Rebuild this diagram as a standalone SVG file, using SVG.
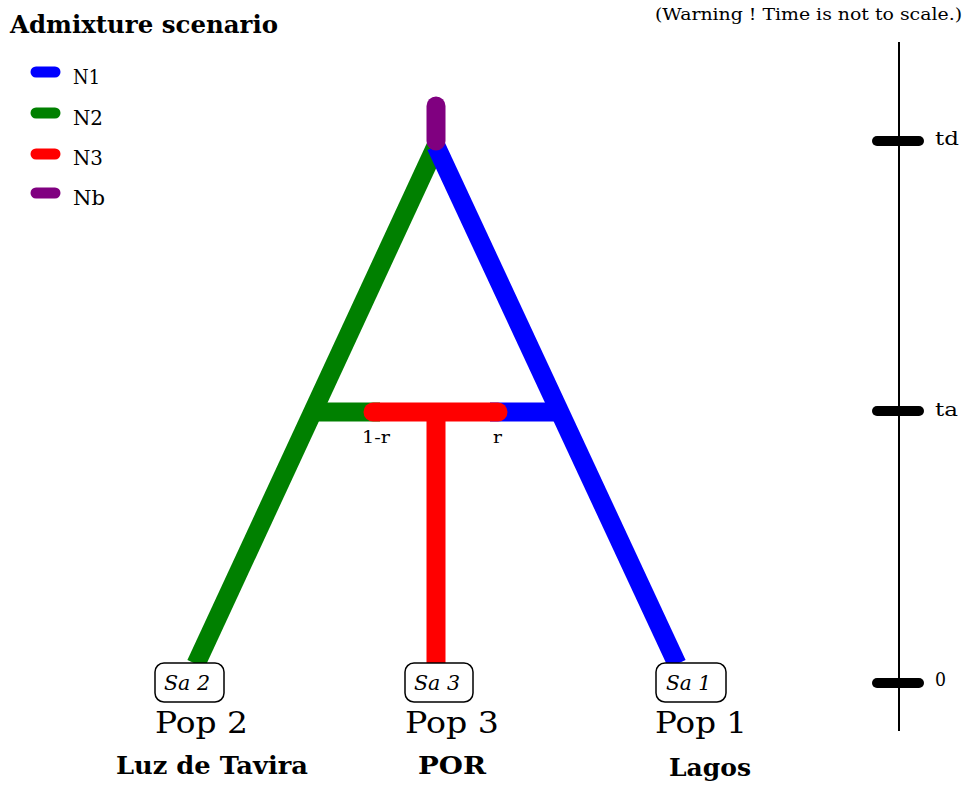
<svg xmlns="http://www.w3.org/2000/svg" width="965" height="787" viewBox="0 0 965 787">
<style>
text{font-family:"DejaVu Serif","Liberation Serif",serif;fill:#000}
.leg{stroke-width:11;stroke-linecap:round}
.br{fill:none;stroke-width:19}
.tick{stroke:#000;stroke-width:10;stroke-linecap:round}
.sbox{fill:#fff;stroke:#000;stroke-width:1.5}
.sa{font-style:italic;font-size:20px}
.pop{font-size:29px}
.nm{font-size:25px;font-weight:bold}
.lg{font-size:20px}
.tl{font-size:19px}
</style>
<rect width="965" height="787" fill="#fff"/>
<text x="10" y="33" font-size="25" font-weight="bold" textLength="268" lengthAdjust="spacingAndGlyphs">Admixture scenario</text>
<text x="655" y="20" font-size="16" textLength="307" lengthAdjust="spacingAndGlyphs">(Warning ! Time is not to scale.)</text>
<g id="legend">
<line class="leg" x1="36" y1="72" x2="55" y2="72" stroke="#0000ff"/>
<text class="lg" x="73" y="84" textLength="27" lengthAdjust="spacingAndGlyphs">N1</text>
<line class="leg" x1="36" y1="113" x2="55" y2="113" stroke="#008000"/>
<text class="lg" x="73" y="125" textLength="30" lengthAdjust="spacingAndGlyphs">N2</text>
<line class="leg" x1="36" y1="154" x2="55" y2="154" stroke="#ff0000"/>
<text class="lg" x="73" y="165" textLength="30" lengthAdjust="spacingAndGlyphs">N3</text>
<line class="leg" x1="36" y1="193" x2="55" y2="193" stroke="#800080"/>
<text class="lg" x="73" y="205" textLength="32" lengthAdjust="spacingAndGlyphs">Nb</text>
</g>
<g id="connectors">
<line class="br" x1="436" y1="146" x2="196" y2="664" stroke="#008000"/>
<line class="br" x1="436" y1="146" x2="677" y2="664" stroke="#0000ff"/>
<line x1="310" y1="412" x2="380" y2="412" stroke="#008000" stroke-width="19"/>
<line x1="490" y1="412" x2="558" y2="412" stroke="#0000ff" stroke-width="19"/>
<line x1="436" y1="412" x2="436" y2="664" stroke="#ff0000" stroke-width="19"/>
<line x1="373" y1="412" x2="498" y2="412" stroke="#ff0000" stroke-width="19" stroke-linecap="round"/>
<line x1="436" y1="106" x2="436" y2="141" stroke="#800080" stroke-width="19" stroke-linecap="round"/>
<text x="362" y="443" font-size="17" textLength="28" lengthAdjust="spacingAndGlyphs">1-r</text>
<text x="493" y="443" font-size="17" textLength="9" lengthAdjust="spacingAndGlyphs">r</text>
</g>
<g id="pop2">
<rect class="sbox" x="155" y="663" width="69" height="39" rx="9"/>
<text class="sa" x="164" y="690" textLength="46" lengthAdjust="spacingAndGlyphs">Sa 2</text>
<text class="pop" x="155" y="733" textLength="93" lengthAdjust="spacingAndGlyphs">Pop 2</text>
<text class="nm" x="116" y="774" textLength="192" lengthAdjust="spacingAndGlyphs">Luz de Tavira</text>
</g>
<g id="pop3">
<rect class="sbox" x="405" y="663" width="68" height="39" rx="9"/>
<text class="sa" x="414" y="690" textLength="46" lengthAdjust="spacingAndGlyphs">Sa 3</text>
<text class="pop" x="405" y="733" textLength="94" lengthAdjust="spacingAndGlyphs">Pop 3</text>
<text class="nm" x="418" y="774" textLength="68" lengthAdjust="spacingAndGlyphs">POR</text>
</g>
<g id="pop1">
<rect class="sbox" x="656" y="663" width="70" height="39" rx="9"/>
<text class="sa" x="666" y="690" textLength="45" lengthAdjust="spacingAndGlyphs">Sa 1</text>
<text class="pop" x="655" y="733" textLength="92" lengthAdjust="spacingAndGlyphs">Pop 1</text>
<text class="nm" x="669" y="776" textLength="82" lengthAdjust="spacingAndGlyphs">Lagos</text>
</g>
<g id="timeline">
<line x1="899" y1="42" x2="899" y2="731" stroke="#000" stroke-width="2"/>
<line class="tick" x1="877" y1="141" x2="919" y2="141"/>
<line class="tick" x1="877" y1="411" x2="919" y2="411"/>
<line class="tick" x1="877" y1="683" x2="919" y2="683"/>
<text class="tl" x="935" y="145" textLength="24" lengthAdjust="spacingAndGlyphs">td</text>
<text class="tl" x="935" y="416" textLength="23" lengthAdjust="spacingAndGlyphs">ta</text>
<text class="tl" x="935" y="686" textLength="11" lengthAdjust="spacingAndGlyphs">0</text>
</g>
</svg>
